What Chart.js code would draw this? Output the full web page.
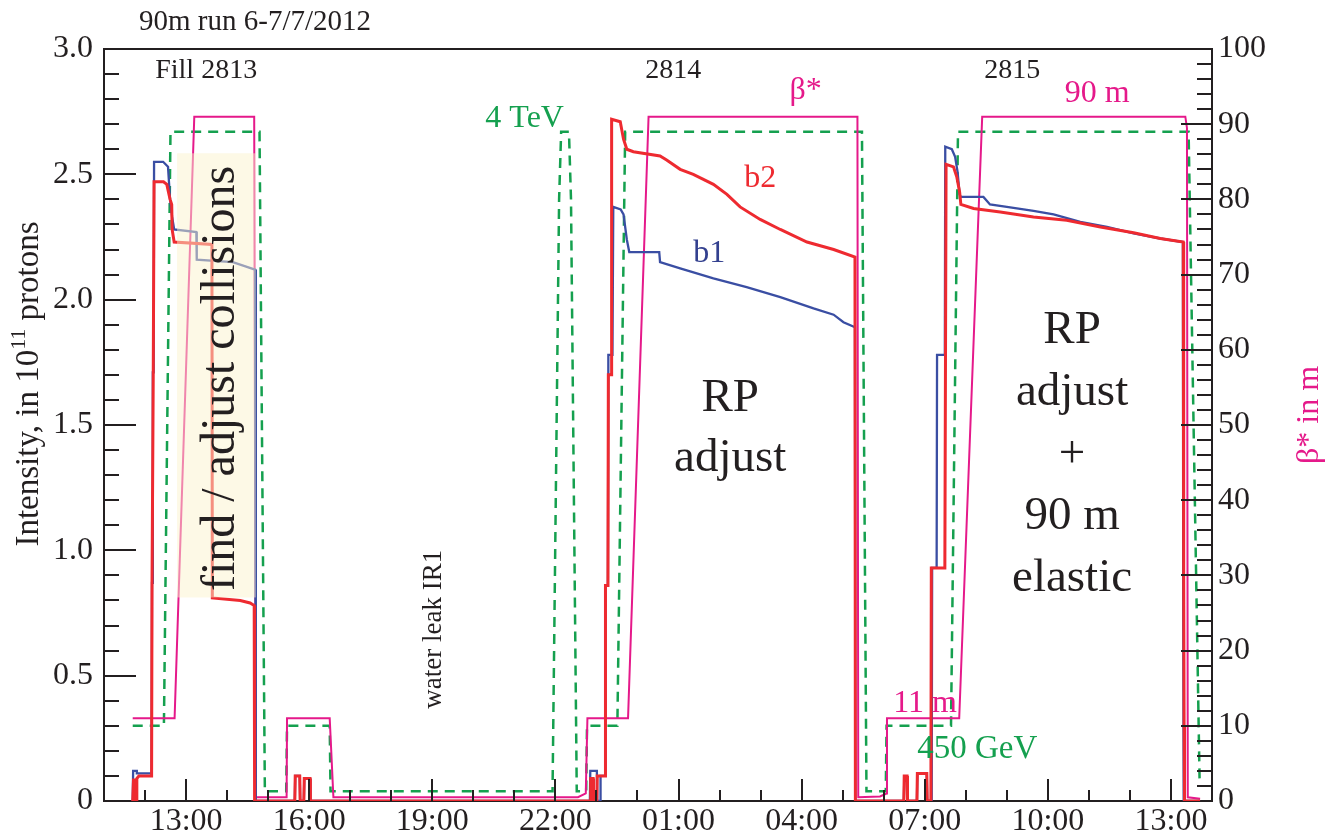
<!DOCTYPE html>
<html>
<head>
<meta charset="utf-8">
<script src="https://cdn.jsdelivr.net/npm/chart.js@4.4.1/dist/chart.umd.min.js"></script>
<style>
  html,body{margin:0;padding:0;background:#fff}
  #wrap{width:1328px;height:840px;position:relative}
</style>
</head>
<body>
<div id="wrap"><canvas id="c"></canvas></div>
<script>
/* ====== DATA  (time in hours from 6/7/2012 00:00) ====== */
const X_TICKS  = [13,16,19,22,25,28,31,34,37];
const X_LABELS = ['13:00','16:00','19:00','22:00','01:00','04:00','07:00','10:00','13:00'];
const YL_TICKS  = [0,0.5,1,1.5,2,2.5,3];
const YL_LABELS = ['0','0.5','1.0','1.5','2.0','2.5','3.0'];
const YR_TICKS  = [0,10,20,30,40,50,60,70,80,90,100];
const YR_LABELS = ['0','10','20','30','40','50','60','70','80','90','100'];

// beam 1 intensity (1e11 p)
const B1_T = [11.70,11.71,11.80,11.80,12.16,12.17,12.19,12.19,12.21,12.22,12.44,12.50,12.56,12.61,12.66,12.71,13.25,13.26,14.14,14.68,14.70,
  15.65,15.66,15.77,15.78,15.87,15.88,16.02,16.03,22.84,22.85,23.01,23.02,23.09,23.10,23.21,23.22,23.28,23.29,23.39,23.41,
  23.59,23.66,23.74,23.80,24.53,24.55,25.04,25.85,26.66,27.48,28.29,28.78,29.02,29.30,29.31,
  30.49,30.50,30.57,30.58,30.81,30.82,31.05,31.06,31.17,31.18,31.29,31.30,31.49,31.50,31.66,31.74,31.80,31.85,31.88,
  32.43,32.59,33.00,33.65,34.14,34.79,35.44,36.09,36.74,37.29,37.30,37.31,37.71];
const B1_V = [0,0.12,0.12,0.11,0.11,0.87,0.87,1.71,1.71,2.55,2.55,2.54,2.53,2.40,2.33,2.28,2.27,2.16,2.15,2.12,0,
  0,0.10,0.10,0,0,0.09,0.09,0,0,0.12,0.12,0,0,0.10,0.10,0.86,0.86,1.78,1.78,2.37,
  2.36,2.34,2.24,2.19,2.19,2.15,2.125,2.085,2.05,2.01,1.965,1.94,1.91,1.89,0,
  0,0.08,0.08,0,0,0.11,0.11,0,0,0.93,0.93,1.78,1.78,2.61,2.60,2.57,2.51,2.42,2.41,
  2.41,2.38,2.37,2.354,2.34,2.31,2.29,2.264,2.244,2.23,0.70,0,0];

// beam 2 intensity (1e11 p)
const B2_T = [11.70,11.72,11.74,11.76,11.78,11.80,11.85,12.16,12.17,12.19,12.20,12.21,12.22,12.45,12.53,12.61,12.65,12.66,12.71,13.63,13.64,14.32,14.56,14.66,14.67,
  15.65,15.66,15.77,15.78,15.87,15.88,16.02,16.03,22.85,22.86,22.92,22.93,23.01,23.02,23.21,23.22,23.28,23.29,23.36,23.37,
  23.58,23.66,23.74,23.90,24.55,24.71,25.04,25.36,25.85,26.18,26.50,26.99,27.48,28.13,28.78,29.30,29.31,
  30.49,30.50,30.57,30.58,30.81,30.82,31.05,31.06,31.15,31.16,31.49,31.52,31.70,31.78,31.85,31.88,
  32.19,32.84,33.65,34.46,35.28,36.09,36.74,37.30,37.31,37.32,37.33,37.71];
const B2_V = [0,0.09,0,0.09,0,0.09,0.10,0.10,0.86,0.86,1.70,1.70,2.47,2.47,2.46,2.40,2.38,2.28,2.23,2.22,0.81,0.80,0.79,0.78,0,
  0,0.10,0.10,0,0,0.09,0.09,0,0,0.09,0.09,0,0,0.10,0.10,0.86,0.86,1.70,1.70,2.72,
  2.71,2.64,2.60,2.59,2.573,2.557,2.52,2.50,2.46,2.42,2.37,2.32,2.28,2.23,2.20,2.17,0,
  0,0.10,0.10,0,0,0.11,0.11,0,0,0.93,0.93,2.54,2.53,2.49,2.43,2.38,
  2.364,2.35,2.33,2.317,2.29,2.267,2.244,2.23,0.90,0.30,0,0];

// beta* (m), right axis
const BETA_T = [11.70,12.72,13.20,14.66,14.70,15.45,15.46,16.50,16.59,22.55,22.74,22.78,23.77,24.27,29.36,29.38,29.91,30.07,30.08,31.84,32.40,37.35,37.39,37.41,37.71];
const BETA_V = [11,11,91,91,0.5,0.5,11,11,0.5,0.5,1.0,11,11,91,91,0.5,0.6,1.0,11,11,91,91,89.5,0.5,0.3];

// beam energy, drawn on the beta* scale (450 GeV ~ 10, 4 TeV ~ 89)
const EN_T = [11.70,12.46,12.62,14.79,14.92,15.44,15.46,16.50,16.52,21.93,22.09,22.14,22.33,22.38,22.52,22.75,22.77,23.51,23.70,29.47,29.58,30.05,30.07,31.64,31.81,37.43,37.70];
const EN_V = [10,10,89,89,1.3,1.3,10,10,1.3,1.3,80,89,89,80,1.3,1.3,10,10,89,89,1.3,1.3,10,10,89,89,2.0];

/* ====== STYLE ====== */
const SERIF = "'Liberation Serif','Times New Roman',serif";
const INK   = '#231f20';
const BLUE  = '#3a4ea3';
const RED   = '#ee2a30';
const MAG   = '#e5198a';
const GREEN = '#15a04f';

const pts = (T,V)=> T.map((t,i)=>({x:t,y:V[i]}));

/* ====== NOTES (data coords: hours / left-axis units) ====== */
const NOTES = [
  {s:'Fill 2813', t:13.49, v:2.884, size:28, c:INK},
  {s:'2814',      t:24.87, v:2.884, size:28, c:INK},
  {s:'2815',      t:33.13, v:2.884, size:28, c:INK},
  {s:'\u03b2*',   t:28.10, v:2.800, size:32, c:MAG},
  {s:'90 m',      t:35.20, v:2.788, size:32, c:MAG},
  {s:'4 TeV',     t:21.25, v:2.688, size:32, c:GREEN},
  {s:'b2',        t:26.99, v:2.449, size:32, c:RED},
  {s:'b1',        t:25.75, v:2.149, size:32, c:'#33408f'},
  {s:'RP',        t:26.26, v:1.555, size:47, c:INK},
  {s:'adjust',    t:26.26, v:1.316, size:47, c:INK},
  {s:'RP',        t:34.59, v:1.826, size:47, c:INK},
  {s:'adjust',    t:34.59, v:1.579, size:47, c:INK},
  {s:'+',         t:34.59, v:1.332, size:47, c:INK},
  {s:'90 m',      t:34.59, v:1.084, size:47, c:INK},
  {s:'elastic',   t:34.59, v:0.837, size:47, c:INK},
  {s:'11 m',      t:31.01, v:0.354, size:32, c:MAG},
  {s:'450 GeV',   t:32.28, v:0.170, size:33, c:GREEN},
];

/* ====== PLUGIN: frame, inward ticks, notes ====== */
function line(ctx,x1,y1,x2,y2){ ctx.beginPath(); ctx.moveTo(x1,y1); ctx.lineTo(x2,y2); ctx.stroke(); }
function text(ctx,s,x,y,size,color,rot){
  ctx.save(); ctx.translate(x,y); if(rot) ctx.rotate(rot);
  ctx.font = `${size}px ${SERIF}`; ctx.fillStyle=color; ctx.textAlign='center'; ctx.textBaseline='alphabetic';
  ctx.fillText(s,0,0); ctx.restore();
}

const decor = {
  id:'decor',
  afterDatasetsDraw(chart){
    const {ctx, scales:{x, y}} = chart;
    // shaded "find / adjust collisions" box, drawn over the traces
    const x0=x.getPixelForValue(12.78), x1=x.getPixelForValue(14.70);
    const y0=y.getPixelForValue(2.584), y1=y.getPixelForValue(0.812);
    ctx.save();
    ctx.fillStyle='rgba(251,243,205,0.5)';
    ctx.fillRect(x0,y0,x1-x0,y1-y0);
    ctx.restore();
    text(ctx,'find / adjust collisions', x.getPixelForValue(14.18), y.getPixelForValue(1.686), 48, INK, -Math.PI/2);
    text(ctx,'water leak IR1', x.getPixelForValue(19.21), y.getPixelForValue(0.685), 27, INK, -Math.PI/2);
  },
  afterDraw(chart){
    const {ctx, chartArea:a, scales:{x, y, yR}} = chart;
    ctx.save();
    ctx.strokeStyle=INK; ctx.lineWidth=2; ctx.lineCap='butt';
    line(ctx,a.left-1,a.top,a.right+1,a.top);
    // x ticks every hour, long every 3 h
    for(let h=12; h<=37; h++){
      const px=Math.round(x.getPixelForValue(h));
      line(ctx,px,a.bottom,px,a.bottom-((h-13)%3===0?22:11));
    }
    // left ticks every 0.1
    for(let i=1; i<30; i++){
      const py=Math.round(y.getPixelForValue(i/10));
      line(ctx,a.left,py,a.left+(i%5===0?32:15),py);
    }
    // right ticks every 2
    for(let i=1; i<50; i++){
      const py=Math.round(yR.getPixelForValue(i*2));
      line(ctx,a.right,py,a.right-(i%5===0?31:15),py);
    }
    ctx.restore();

    NOTES.forEach(n=> text(ctx,n.s,x.getPixelForValue(n.t),y.getPixelForValue(n.v),n.size,n.c,0));

    // title
    text(ctx,'90m run 6-7/7/2012', 255, 30, 29, INK, 0);

    // left axis title with superscript
    ctx.save();
    ctx.translate(38, 384); ctx.rotate(-Math.PI/2);
    ctx.fillStyle=INK; ctx.textBaseline='alphabetic'; ctx.textAlign='left';
    const big=`33px ${SERIF}`, sml=`22px ${SERIF}`;
    const p1='Intensity, in 10', p2='11', p3=' protons';
    ctx.font=big; const w1=ctx.measureText(p1).width, w3=ctx.measureText(p3).width;
    ctx.font=sml; const w2=ctx.measureText(p2).width;
    let cx=-(w1+w2+w3)/2;
    ctx.font=big; ctx.fillText(p1,cx,0); cx+=w1;
    ctx.font=sml; ctx.fillText(p2,cx,-13); cx+=w2;
    ctx.font=big; ctx.fillText(p3,cx,0);
    ctx.restore();

    // right axis title
    text(ctx,'\u03b2* in m', 1318, 415, 32, MAG, -Math.PI/2);
  }
};

/* ====== CHART ====== */
const tickFont = {family:SERIF, size:32};
new Chart(document.getElementById('c').getContext('2d'),{
  type:'line',
  data:{datasets:[
    {label:'b2',   data:pts(B2_T,B2_V),     yAxisID:'y',  borderColor:RED,   borderWidth:3,   order:0},
    {label:'b1',   data:pts(B1_T,B1_V),     yAxisID:'y',  borderColor:BLUE,  borderWidth:2.3, order:1},
    {label:'beta', data:pts(BETA_T,BETA_V), yAxisID:'yR', borderColor:MAG,   borderWidth:2,   order:2},
    {label:'E',    data:pts(EN_T,EN_V),     yAxisID:'yR', borderColor:GREEN, borderWidth:2.5, borderDash:[10,7], order:3},
  ]},
  options:{
    responsive:true, maintainAspectRatio:false, animation:false,
    layout:{padding:{top:49,left:0,right:0,bottom:0}},
    elements:{point:{radius:0}, line:{tension:0, fill:false}},
    plugins:{legend:{display:false}, tooltip:{enabled:false}},
    scales:{
      x:{type:'linear', min:11, max:38,
        afterBuildTicks:s=>{ s.ticks=X_TICKS.map(v=>({value:v})); },
        afterFit:s=>{ s.height=39; },
        grid:{drawOnChartArea:false, drawTicks:false},
        border:{display:true, width:2, color:INK},
        ticks:{padding:1, font:tickFont, color:INK, maxRotation:0, autoSkip:false, callback:(v,i)=>X_LABELS[i]}},
      y:{position:'left', min:0, max:3,
        afterBuildTicks:s=>{ s.ticks=YL_TICKS.map(v=>({value:v})); },
        afterFit:s=>{ s.width=104; },
        grid:{drawOnChartArea:false, drawTicks:false},
        border:{display:true, width:2, color:INK},
        ticks:{padding:11, font:tickFont, color:INK, callback:(v,i)=>YL_LABELS[i]}},
      yR:{position:'right', min:0, max:100,
        afterBuildTicks:s=>{ s.ticks=YR_TICKS.map(v=>({value:v})); },
        afterFit:s=>{ s.width=116; },
        grid:{drawOnChartArea:false, drawTicks:false},
        border:{display:true, width:2, color:INK},
        ticks:{padding:6, font:tickFont, color:INK, callback:(v,i)=>YR_LABELS[i]}}
    }
  },
  plugins:[decor]
});
</script>
</body>
</html>
